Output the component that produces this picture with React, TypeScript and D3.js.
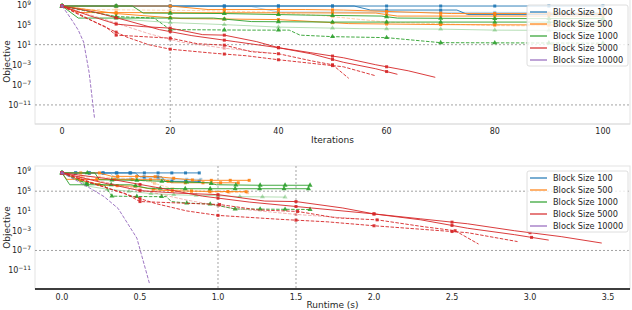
import React, { useEffect, useRef } from "react";
import * as d3 from "d3";

// legend / colour groups
const BLOCK_SIZES = [100, 500, 1000, 5000, 10000];
const BLOCK_COLORS = ["#1f77b4", "#ff7f0e", "#2ca02c", "#d62728", "#9467bd"];

// tick labels
const ITER_TICKS = [0, 20, 40, 60, 80, 100];
const TIME_TICKS = [0, 0.5, 1, 1.5, 2, 2.5, 3, 3.5];
const EXP_TICKS = [9, 5, 1, -3, -7, -11];

// one entry per run: block index, iteration breakpoints, runtime (s) at those breakpoints, log10(objective)
const runBlock = [0, 0, 0, 1, 1, 1, 1, 2, 2, 2, 2, 3, 3, 3, 3, 3, 4];

const runIters = [
  [0, 50, 100],
  [0, 54, 57, 73, 75, 100],
  [0, 35, 40, 100],
  [0, 20, 27, 45, 52, 72, 100],
  [0, 3, 40, 58, 62, 100],
  [0, 10, 22, 40, 53, 70, 100],
  [0, 5, 25, 38, 48, 60, 80, 100],
  [0, 3, 13, 15, 30, 45, 59, 62, 80, 100],
  [0, 3, 28, 35, 50, 70, 100],
  [0, 4, 10, 17, 20, 35, 42, 44, 50, 60, 70, 100],
  [0, 6, 12, 20, 30, 40, 55, 70, 80, 100],
  [0, 5, 10, 15, 20, 26, 30, 36, 40, 46, 52, 58, 64, 69],
  [0, 4, 8, 10, 15, 20, 25, 30, 35, 40, 46, 50, 53],
  [0, 3, 7, 12, 16, 20, 28, 34, 40, 46, 52, 58],
  [0, 6, 12, 18, 24, 32, 40, 46, 52, 58, 62],
  [0, 8, 16, 22, 30, 38],
  [0, 1, 2, 3, 4, 5, 6],
];

const runTimes = [
  [0, 0.44, 0.88],
  [0, 0.47, 0.5, 0.64, 0.66, 0.88],
  [0, 0.31, 0.35, 0.89],
  [0, 0.24, 0.32, 0.54, 0.62, 0.86, 1.2],
  [0, 0.03, 0.45, 0.66, 0.7, 1.13],
  [0, 0.12, 0.26, 0.47, 0.62, 0.83, 1.18],
  [0, 0.06, 0.3, 0.45, 0.57, 0.71, 0.95, 1.19],
  [0, 0.05, 0.21, 0.24, 0.48, 0.72, 0.94, 0.99, 1.27, 1.59],
  [0, 0.05, 0.44, 0.55, 0.79, 1.11, 1.58],
  [0, 0.06, 0.16, 0.27, 0.32, 0.56, 0.67, 0.7, 0.8, 0.95, 1.11, 1.59],
  [0, 0.09, 0.17, 0.29, 0.43, 0.57, 0.79, 1.0, 1.14, 1.43],
  [0, 0.25, 0.5, 0.75, 1.0, 1.3, 1.5, 1.8, 2.0, 2.3, 2.6, 2.9, 3.2, 3.46],
  [0, 0.2, 0.4, 0.5, 0.76, 1.01, 1.26, 1.51, 1.76, 2.02, 2.32, 2.52, 2.67],
  [0, 0.15, 0.35, 0.6, 0.8, 1.0, 1.4, 1.7, 2.0, 2.3, 2.6, 2.92],
  [0, 0.3, 0.6, 0.9, 1.2, 1.6, 2.0, 2.3, 2.6, 2.9, 3.12],
  [0, 0.4, 0.8, 1.1, 1.5, 1.9],
  [0, 0.09, 0.18, 0.27, 0.36, 0.48, 0.56],
];

const runLogObj = [
  [8.7, 8.7, 8.7],
  [8.7, 8.7, 7.9, 7.9, 7.0, 7.0],
  [8.7, 8.6, 7.5, 7.4],
  [8.7, 8.7, 8.0, 8.0, 7.9, 7.2, 7.2],
  [8.7, 7.4, 7.35, 7.3, 6.7, 6.7],
  [8.7, 7.2, 6.2, 6.0, 5.2, 5.0, 4.9],
  [8.7, 8.0, 7.8, 7.5, 6.8, 5.5, 4.8, 4.7],
  [8.7, 8.7, 8.7, 7.3, 7.2, 6.9, 6.7, 6.3, 6.2, 6.2],
  [8.7, 6.3, 6.3, 5.6, 5.5, 5.5, 5.5],
  [8.7, 7.8, 6.6, 6.3, 4.0, 3.9, 3.9, 2.9, 2.6, 2.4, 1.4, 1.3],
  [8.7, 7.5, 6.0, 5.4, 5.0, 4.5, 4.2, 4.1, 3.9, 3.8],
  [8.7, 6.8, 5.1, 4.6, 4.3, 3.0, 2.9, 1.6, 0.4, -0.6, -1.6, -3.0, -4.2, -5.5],
  [8.7, 6.5, 4.6, 2.9, 2.6, 2.3, 1.2, 0.9, -0.4, -0.8, -2.2, -3.0, -5.7],
  [8.7, 7.2, 5.0, 2.5, 1.0, 0.1, -0.7, -1.2, -2.0, -2.7, -3.4, -5.2],
  [8.7, 7.5, 5.8, 4.0, 2.8, 1.6, 0.4, -0.8, -2.5, -3.8, -4.9],
  [8.7, 6.0, 3.2, 1.5, 0.3, -0.6],
  [8.7, 7.2, 5.6, 3.9, 1.5, -4.5, -13.6],
];

// per-run look (kept apart from the data)
const FADED = new Set([2, 6, 10, 15]);
const DASHED = new Set([6, 9, 12, 13, 15, 16]);

const W = 632;
const H = 310;
const FONT = "DejaVu Sans, sans-serif";
const LEFT = 35;
const RIGHT = 630;

const App = () => {
  const ref = useRef<SVGSVGElement | null>(null);

  useEffect(() => {
    const svg = d3.select(ref.current);
    svg.selectAll("*").remove();

    const panels = [
      {
        id: "iter", top: -1, bottom: 124, domain: [-5, 105], ticks: ITER_TICKS,
        fmt: (d: number) => String(d), label: "Iterations", tickY: 134, labelY: 143,
        hGrid: [1, -11], vGrid: [20], bottomColor: "#dddddd", bottomWidth: 1,
        legendTop: 5,
      },
      {
        id: "time", top: 166, bottom: 289, domain: [-0.173, 3.641], ticks: TIME_TICKS,
        fmt: d3.format(".1f"), label: "Runtime (s)", tickY: 300, labelY: 308,
        hGrid: [5, -7], vGrid: [1, 1.5], bottomColor: "#000000", bottomWidth: 1.5,
        legendTop: 171,
      },
    ];

    panels.forEach((p, pi) => {
      const x = d3.scaleLinear().domain(p.domain).range([LEFT, RIGHT]);
      const y = d3.scaleLog().domain([10 ** -14.8, 10 ** 10.1]).range([p.bottom, p.top]);
      const g = svg.append("g");

      g.append("clipPath").attr("id", `clip${pi}`)
        .append("rect").attr("x", LEFT).attr("y", Math.max(p.top, 0))
        .attr("width", RIGHT - LEFT).attr("height", p.bottom - Math.max(p.top, 0));

      // frame
      g.append("rect").attr("x", LEFT).attr("y", p.top).attr("width", RIGHT - LEFT)
        .attr("height", p.bottom - p.top).attr("fill", "white")
        .attr("stroke", "#e3e3e3").attr("stroke-width", 1);

      // grid
      p.hGrid.forEach((e) => {
        g.append("line").attr("x1", LEFT).attr("x2", RIGHT)
          .attr("y1", y(10 ** e)).attr("y2", y(10 ** e))
          .attr("stroke", "#8c8c8c").attr("stroke-width", 0.8).attr("stroke-dasharray", "2,2");
      });
      p.vGrid.forEach((v) => {
        g.append("line").attr("x1", x(v)).attr("x2", x(v))
          .attr("y1", Math.max(p.top, 0)).attr("y2", p.bottom)
          .attr("stroke", "#8c8c8c").attr("stroke-width", 0.8).attr("stroke-dasharray", "2,2");
      });

      // runs
      const plot = g.append("g").attr("clip-path", `url(#clip${pi})`);
      runIters.forEach((its, ri) => {
        const xs = p.id === "iter" ? its : runTimes[ri];
        const pts = its.map((_, k) => [x(xs[k]), y(10 ** runLogObj[ri][k])] as [number, number]);
        const color = BLOCK_COLORS[runBlock[ri]];
        const alpha = FADED.has(ri) ? 0.35 : 0.9;
        plot.append("path")
          .attr("d", d3.line()(pts))
          .attr("fill", "none").attr("stroke", color).attr("stroke-width", 1)
          .attr("stroke-opacity", alpha)
          .attr("stroke-dasharray", DASHED.has(ri) ? "3.5,1.5" : null);

        // markers every 10 iterations, placed on the run's own curve
        const lastIt = its[its.length - 1];
        const atIt = d3.scaleLinear().domain(its).range(xs);
        const logAt = d3.scaleLinear().domain(its).range(runLogObj[ri]);
        const marks = d3.range(0, lastIt + 0.001, 10);
        const sym = d3.symbol()
          .type(runBlock[ri] === 2 ? d3.symbolTriangle : d3.symbolSquare)
          .size(runBlock[ri] === 2 ? 11 : 9);
        plot.selectAll(null).data(marks).enter().append("path")
          .attr("d", sym)
          .attr("transform", (m) => `translate(${x(atIt(m))},${y(10 ** logAt(m))})`)
          .attr("fill", color).attr("fill-opacity", alpha);
      });

      // bottom spine
      g.append("line").attr("x1", LEFT).attr("x2", RIGHT)
        .attr("y1", p.bottom).attr("y2", p.bottom)
        .attr("stroke", p.bottomColor).attr("stroke-width", p.bottomWidth);

      // x ticks
      g.selectAll(null).data(p.ticks).enter().append("text")
        .attr("x", (d) => x(d)).attr("y", p.tickY)
        .attr("text-anchor", "middle").attr("font-family", FONT).attr("font-size", 8)
        .attr("fill", "#262626").text((d) => p.fmt(d));
      g.append("text").attr("x", (LEFT + RIGHT) / 2).attr("y", p.labelY)
        .attr("text-anchor", "middle").attr("font-family", FONT).attr("font-size", 9)
        .attr("fill", "#262626").text(p.label);

      // y ticks
      EXP_TICKS.forEach((e) => {
        const t = g.append("text").attr("x", 31).attr("y", Math.max(y(10 ** e) + 3, 8))
          .attr("text-anchor", "end").attr("font-family", FONT).attr("font-size", 8)
          .attr("fill", "#262626");
        t.append("tspan").text("10");
        t.append("tspan").attr("dy", -3).attr("font-size", 6)
          .text(e < 0 ? `\u2212${-e}` : String(e));
      });
      const cy = (p.top + p.bottom) / 2;
      g.append("text").attr("transform", `translate(10,${cy}) rotate(-90)`)
        .attr("text-anchor", "middle").attr("font-family", FONT).attr("font-size", 9)
        .attr("fill", "#262626").text("Objective");

      // legend
      const lg = g.append("g").attr("transform", `translate(527,${p.legendTop})`);
      lg.append("rect").attr("x", 0).attr("y", 0).attr("width", 101).attr("height", 61)
        .attr("rx", 2).attr("fill", "white").attr("fill-opacity", 0.8)
        .attr("stroke", "#d6d6d6").attr("stroke-width", 0.8);
      BLOCK_SIZES.forEach((b, bi) => {
        const ry = 7 + bi * 12;
        lg.append("line").attr("x1", 3).attr("x2", 20).attr("y1", ry).attr("y2", ry)
          .attr("stroke", BLOCK_COLORS[bi]).attr("stroke-width", 1.2);
        lg.append("text").attr("x", 26).attr("y", ry + 3)
          .attr("font-family", FONT).attr("font-size", 8.2).attr("fill", "#262626")
          .text(`Block Size ${b}`);
      });
    });
  }, []);

  return (
    <svg ref={ref} width={W} height={H}
      style={{ position: "absolute", left: 0, top: 0, background: "white" }} />
  );
};

export default App;
